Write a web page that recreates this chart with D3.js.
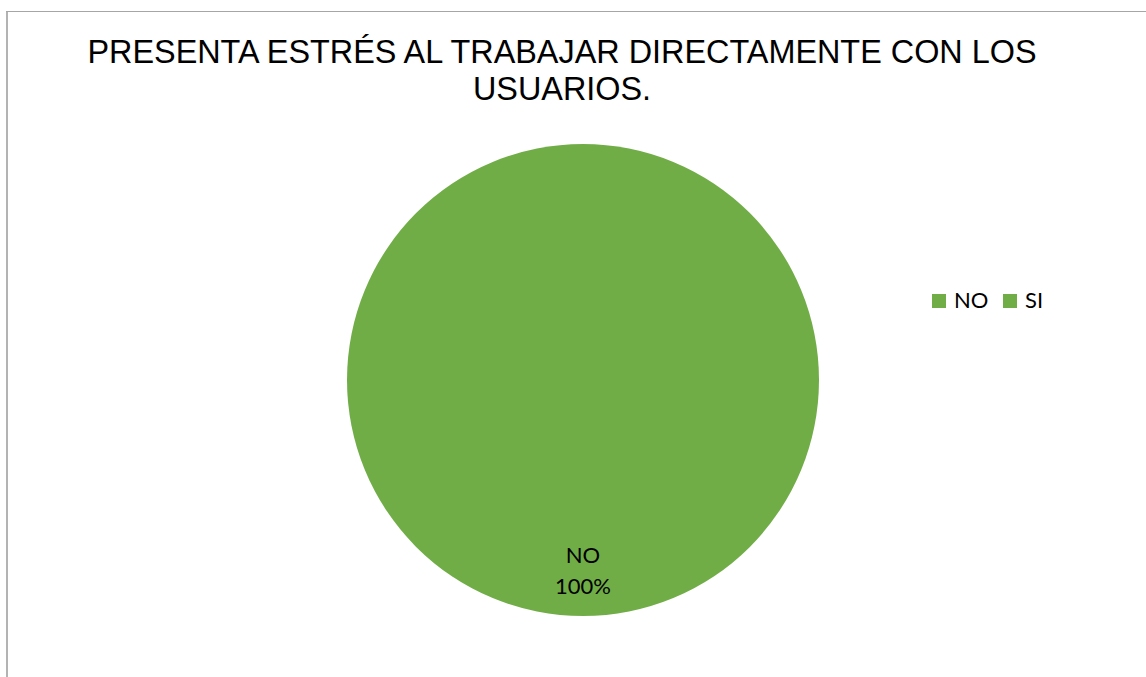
<!DOCTYPE html>
<html><head><meta charset="utf-8">
<script src="https://cdn.jsdelivr.net/npm/d3@7"></script>
<style>html,body{margin:0;padding:0;background:#fff;}svg{display:block;}</style>
</head><body>
<svg id="chart" width="1146" height="677"></svg>
<script>
const categories = ["NO", "SI"];
const values = [100, 0];
const titleLines = ["PRESENTA ESTRÉS AL TRABAJAR DIRECTAMENTE CON LOS", "USUARIOS."];
const colors = ["#70AD47", "#70AD47"];

const svg = d3.select("#chart");
// frame
svg.append("line").attr("x1", 7).attr("x2", 7).attr("y1", 11).attr("y2", 677).attr("stroke", "#b3b3b3").attr("stroke-width", 2);
svg.append("line").attr("x1", 6).attr("x2", 1146).attr("y1", 11.5).attr("y2", 11.5).attr("stroke", "#a6a6a6").attr("stroke-width", 1);

const title = svg.append("text").attr("text-anchor", "middle")
  .style("font-family", "'Liberation Sans', Arial, sans-serif").style("font-size", "32.4px").attr("fill", "#000");
titleLines.forEach((t, i) => title.append("tspan").attr("x", 562).attr("y", 63 + i * 37).text(t));

const cx = 583, cy = 380, r = 236;
const color = d3.scaleOrdinal().domain(categories).range(colors);
const pie = d3.pie().sort(null).value(d => d.v);
const data = categories.map((c, i) => ({c, v: values[i]}));
const arcs = pie(data);
const arc = d3.arc().innerRadius(0).outerRadius(r);
const g = svg.append("g").attr("transform", `translate(${cx},${cy})`);
g.selectAll("path").data(arcs.filter(a => a.data.v > 0)).join("path")
  .attr("d", arc).attr("fill", d => color(d.data.c));

const total = d3.sum(values);
const labelArc = d3.arc().innerRadius(r * 0.85).outerRadius(r * 0.85);
const lblFont = "Lato, 'Open Sans', sans-serif";
arcs.filter(a => a.data.v > 0).forEach(a => {
  // full circle: Office places the label near the bottom
  const pos = (a.endAngle - a.startAngle) >= 2 * Math.PI - 1e-6 ? [0, 0.775 * r] : labelArc.centroid(a);
  const t = g.append("text").attr("text-anchor", "middle").style("font-family", lblFont).style("font-size", "22px").attr("fill", "#000");
  t.append("tspan").attr("x", pos[0]).attr("y", pos[1]).text(a.data.c);
  t.append("tspan").attr("x", pos[0]).attr("y", pos[1] + 31).text(d3.format(".0%")(a.data.v / total));
});

// legend
const leg = svg.append("g");
const legX = [932, 1003];
categories.forEach((c, i) => {
  leg.append("rect").attr("x", legX[i]).attr("y", 294).attr("width", 14).attr("height", 14).attr("fill", color(c));
  leg.append("text").attr("x", legX[i] + 22).attr("y", 308).style("font-family", lblFont).style("font-size", "22px").attr("fill", "#000").text(c);
});
</script>
</body></html>
